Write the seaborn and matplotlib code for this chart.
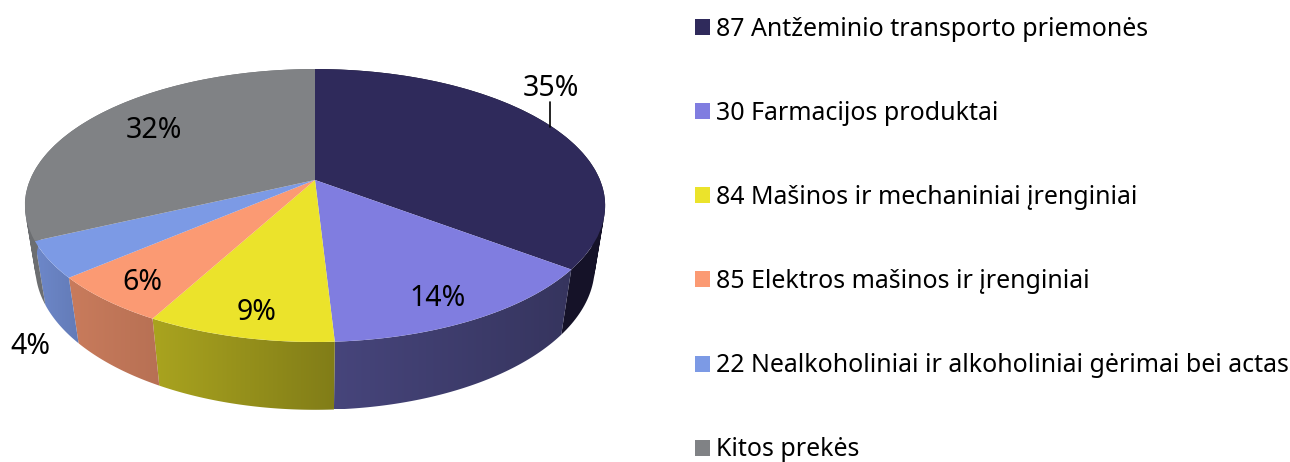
import numpy as np
import seaborn as sns
import matplotlib.pyplot as plt
from matplotlib.patches import Patch
from matplotlib.path import Path
from matplotlib.transforms import Transform

# --- Data ---
categories = [
    "87 Antžeminio transporto priemonės",
    "30 Farmacijos produktai",
    "84 Mašinos ir mechaniniai įrenginiai",
    "85 Elektros mašinos ir įrenginiai",
    "22 Nealkoholiniai ir alkoholiniai gėrimai bei actas",
    "Kitos prekės",
]
shares = [35.3, 13.8, 8.8, 5.8, 4.3, 32.0]

# --- Style ---
top_colors = ["#2f2a5b", "#807de0", "#ebe32b", "#fb9a73", "#7c9ae5", "#808285"]
# wall shade at the left and right end of each slice, as a factor of the top colour
wall_left = [0.45, 0.55, 0.72, 0.80, 0.88, 0.85]
wall_right = [0.45, 0.42, 0.55, 0.73, 0.80, 0.85]
label_pos = [(551, 88), (438, 298), (257, 313), (142, 283), (30, 346), (154, 130)]

sns.set_theme(style="white")
plt.rcParams["font.family"] = ["Noto Sans", "DejaVu Sans"]
palette = sns.color_palette(top_colors)


class PiePerspective(Transform):
    """Projects the unit pie on to the page; drop=1 gives the lower rim."""

    input_dims = 2
    output_dims = 2

    def __init__(self, drop=0):
        super().__init__()
        self.drop = drop

    def transform_non_affine(self, values):
        values = np.asarray(values, dtype=float)
        u, v = values[:, 0], values[:, 1]
        w = 1 + 0.187 * v + 0.036 * self.drop
        px = 315 + 285 * u / w
        py = 180 - (131.7 * v - 63.4 * self.drop) / w
        return np.column_stack([px, py])


def wall_path(upper, lower):
    # union of same-way-round quads, so the wall stays whole past the silhouette
    quads = []
    for i in range(len(upper) - 1):
        quad = np.array([upper[i], upper[i + 1], lower[i + 1], lower[i]])
        x, y = quad[:, 0], quad[:, 1]
        if np.dot(x, np.roll(y, -1)) - np.dot(y, np.roll(x, -1)) < 0:
            quad = quad[::-1]
        quads.append(Path(np.vstack([quad, quad[0]]), closed=True))
    return Path.make_compound_path(*quads)


fig = plt.figure(figsize=(12.9, 4.62), dpi=100)
ax = fig.add_axes([0, 0, 1, 1])

wedges, _, autotexts = ax.pie(
    shares,
    colors=palette,
    startangle=90,
    counterclock=False,
    autopct="%.0f%%",
    wedgeprops={"linewidth": 0},
    textprops={"fontsize": 20.5, "color": "black"},
)

top = PiePerspective(0)
bottom = PiePerspective(1)

# --- Side walls: a horizontal gradient clipped to the outline of each wall ---
for wedge, color, left, right in zip(wedges, palette, wall_left, wall_right):
    angles = np.radians(np.linspace(wedge.theta1, wedge.theta2, 120))
    rim = np.column_stack([np.cos(angles), np.sin(angles)])
    upper = top.transform(rim)
    lower = bottom.transform(rim)
    outline = np.vstack([upper, lower])
    x0, x1 = outline[:, 0].min(), outline[:, 0].max()
    y0, y1 = outline[:, 1].min(), outline[:, 1].max()
    shade = np.linspace(left, right, 64)
    gradient = np.array(color)[None, None, :] * shade[None, :, None]
    image = ax.imshow(
        gradient,
        extent=(x0, x1, y1, y0),
        interpolation="bilinear",
        aspect="auto",
        zorder=1,
    )
    image.set_clip_path(wall_path(upper, lower), transform=ax.transData)

ax.set_xlim(0, 1290)
ax.set_ylim(462, 0)
ax.axis("off")

# --- Top face ---
for wedge in wedges:
    wedge.set_transform(top + ax.transData)
    wedge.set_zorder(2)

for text, pos in zip(autotexts, label_pos):
    text.set_position(pos)
    text.set_zorder(3)

# leader line of the 35% label
ax.plot([549.5, 549.5], [102, 127], color="black", lw=1.2, zorder=3)

# --- Legend ---
handles = [Patch(facecolor=c, linewidth=0) for c in palette]
ax.legend(
    handles,
    categories,
    loc="upper left",
    bbox_to_anchor=(695 / 1290, 1 - 17 / 462),
    frameon=False,
    fontsize=17.95,
    borderpad=0,
    borderaxespad=0,
    handlelength=0.61,
    handleheight=0.61,
    handletextpad=0.24,
    labelspacing=2.37,
    labelcolor="black",
)

fig.savefig("out.png", dpi=100)
